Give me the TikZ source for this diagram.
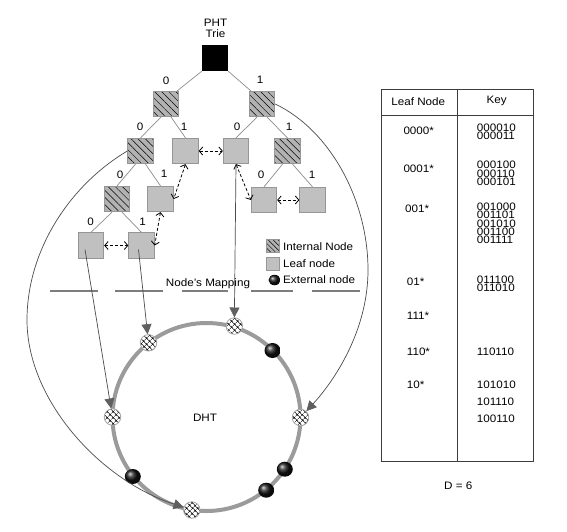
\documentclass[tikz,border=0pt]{standalone}
\usepackage{fontspec}
\setmainfont[FakeStretch=1.08]{Liberation Sans}
\usetikzlibrary{patterns.meta,arrows.meta,calc,shapes.geometric}
\definecolor{leafgray}{RGB}{192,192,192}
\definecolor{hatchgray}{RGB}{178,178,178}
\definecolor{edgegray}{RGB}{140,140,140}
\definecolor{boxborder}{RGB}{150,150,150}
\definecolor{ringgray}{RGB}{155,155,155}
\definecolor{arrgray}{RGB}{75,75,75}
\definecolor{tipgray}{RGB}{95,95,95}
\definecolor{tblline}{RGB}{60,60,60}
\definecolor{mapgray}{RGB}{125,125,125}
\begin{document}
\begin{tikzpicture}[x=1pt,y=-1pt,
  every node/.style={font=\fontsize{10.8}{12}\selectfont, inner sep=0pt},
  box/.style={rectangle, minimum size=25.5pt, inner sep=0pt, draw=boxborder, line width=0.8pt},
  leaf/.style={box, fill=leafgray},
  inode/.style={box, preaction={fill=hatchgray}, pattern={Lines[angle=-45,distance=5pt,line width=0.5pt]}, pattern color=black},
  rootbox/.style={box, fill=black, draw=black},
  edge/.style={draw=edgegray, line width=0.7pt},
  dasharr/.style={draw=black, line width=0.8pt, dash pattern=on 3pt off 2pt, {Straight Barb[length=3.5pt,width=8pt]}-{Straight Barb[length=3.5pt,width=8pt]}},
  longarr/.style={draw=arrgray, line width=0.7pt, -{Triangle[length=10pt,width=10pt,fill=tipgray,color=tipgray]}},
  rnode/.style={circle, minimum size=16.5pt, inner sep=0pt, draw=gray!70, line width=0.8pt, preaction={fill=white}, pattern={Hatch[angle=45,distance=4pt,line width=0.5pt]}, pattern color=black},
  extnode/.style={ellipse, minimum width=16pt, minimum height=15pt, inner sep=0pt, shading=ball, ball color=black!92},
  ringline/.style={draw=ringgray, line width=4pt},
  mapline/.style={draw=mapgray, line width=2pt},
  tbl/.style={draw=tblline, line width=1pt},
  keytxt/.style={anchor=west},
  keygrp/.style={anchor=north west, align=left, font=\fontsize{10.8}{8.35}\selectfont}
]
\useasboundingbox (0,0) rectangle (567,531);

% ---- trie ----
\node (pht) at (215.5,23) {PHT};
\node (trie) at (215.5,33.5) {Trie};
\node[rootbox] (root) at (215,58) {};

\node[inode] (A) at (166,104) {};
\node[inode] (B) at (262,104) {};
\node[inode] (C) at (140.5,151) {};
\node[leaf]  (D) at (185.5,151) {};
\node[leaf]  (E) at (236,151) {};
\node[inode] (F) at (287.5,151) {};
\node[inode] (G) at (117,199) {};
\node[leaf]  (H) at (160.5,199) {};
\node[leaf]  (I) at (264,200) {};
\node[leaf]  (J) at (312.5,200) {};
\node[leaf]  (K) at (91,245.5) {};
\node[leaf]  (L) at (141.5,245.5) {};

\draw[edge] (root.south west) -- ($(A.north east)+(-2,0)$);
\draw[edge] (root.south east) -- ($(B.north west)+(2,0)$);
\draw[edge] ($(A.south)+(-5,0)$) -- (C.north);
\draw[edge] ($(A.south)+(5,0)$) -- (D.north);
\draw[edge] ($(B.south)+(-5,0)$) -- (E.north);
\draw[edge] ($(B.south)+(5,0)$) -- (F.north);
\draw[edge] ($(C.south)+(-5,0)$) -- (G.north);
\draw[edge] ($(C.south)+(5,0)$) -- (H.north);
\draw[edge] ($(F.south)+(-5,0)$) -- (I.north);
\draw[edge] ($(F.south)+(5,0)$) -- (J.north);
\draw[edge] ($(G.south)+(-5,0)$) -- (K.north);
\draw[edge] ($(G.south)+(5,0)$) -- (L.north);

\node (lA) at (166,80.5) {0};
\node (lB) at (260,80) {1};
\node (lC) at (140,127) {0};
\node (lD) at (184,127) {1};
\node (lE) at (237,127) {0};
\node (lF) at (289,127) {1};
\node (lG) at (120,175) {0};
\node (lH) at (164,174) {1};
\node (lI) at (261,175) {0};
\node (lJ) at (312,175) {1};
\node (lK) at (90.7,221.7) {0};
\node (lL) at (142.7,221.7) {1};

\draw[dasharr] (D.east) -- (E.west);
\draw[dasharr] (D.south) -- (H.east);
\draw[dasharr] (H.south) -- (L.east);
\draw[dasharr] (K.east) -- (L.west);
\draw[dasharr] (E.south) -- (I.west);
\draw[dasharr] (I.east) -- (J.west);

% ---- legend ----
\node[inode, minimum size=12.5pt, pattern={Lines[angle=-45,distance=3.5pt,line width=0.5pt]}] (lg1) at (273,246) {};
\node[anchor=west] (lt1) at (283,246.5) {Internal Node};
\node[leaf, minimum size=12.5pt] (lg2) at (273,264) {};
\node[anchor=west] (lt2) at (283,263.5) {Leaf node};
\node[extnode, minimum width=12pt, minimum height=10.5pt] (lg3) at (274.5,280) {};
\node[anchor=west] (lt3) at (283,280) {External node};

% ---- mapping line ----
\draw[mapline] (50,291) -- (98,291);
\draw[mapline] (115,291) -- (163,291);
\draw[mapline] (182,291) -- (228,291);
\draw[mapline] (251,291) -- (293,291);
\draw[mapline] (312,291) -- (360,291);
\node (map) at (208,283.5) {Node's Mapping};

% ---- DHT ring ----
\coordinate (ringc) at (206.5,417);
\draw[ringline] (ringc) circle[radius=94];
\node (dht) at (205,418) {DHT};
\node[rnode] (rT) at (234.3,326) {};
\node[rnode] (rUL) at (148.5,342.8) {};
\node[rnode] (rL) at (112.5,417) {};
\node[rnode] (rR) at (300.5,417.5) {};
\node[rnode] (rB) at (191.8,510) {};
\node[extnode] (x1) at (272.5,350.5) {};
\node[extnode] (x2) at (284.8,469.2) {};
\node[extnode] (x3) at (266.2,490.2) {};
\node[extnode] (x4) at (132.8,476.5) {};

\draw[longarr] ($(K.center)+(-6,4)$) -- (rL);
\draw[longarr] ($(L.center)+(-3,4)$) -- (rUL);
\draw[longarr] (E.south) -- (rT);
\draw[longarr] (B.east) .. controls (330,130) and (368,200) .. (368,270) .. controls (368,330) and (335,380) .. (rR);
\draw[longarr] (C.west) .. controls (70,185) and (27,250) .. (27,320) .. controls (27,400) and (100,480) .. (rB);

% ---- table ----
\draw[tbl] (381.7,89) rectangle (533.3,461.7);
\draw[tbl] (381.7,115.7) -- (533.3,115.7);
\draw[tbl] (457.3,89) -- (457.3,461.7);
\node (h1) at (418.3,101.7) {Leaf Node};
\node (h2) at (496.7,100.5) {Key};

\node[keytxt] (p1) at (403.3,131) {0000*};
\node[keytxt] (p2) at (403.3,168.3) {0001*};
\node[keytxt] (p3) at (405,208.3) {001*};
\node[keytxt] (p4) at (406.7,281.7) {01*};
\node[keytxt] (p5) at (406.7,316) {111*};
\node[keytxt] (p6) at (406.7,351.7) {110*};
\node[keytxt] (p7) at (406.7,385) {10*};

\node[keygrp] (g1) at (476.7,123.8) {000010\\000011};
\node[keygrp] (g2) at (476.7,161.1) {000100\\000110\\000101};
\node[keygrp] (g3) at (476.7,202.8) {001000\\001101\\001010\\001100\\001111};
\node[keygrp] (g4) at (476.7,275.4) {011100\\011010};
\node[keytxt] (k13) at (476.7,351.7) {110110};
\node[keytxt] (k14) at (476.7,385) {101010};
\node[keytxt] (k15) at (476.7,401.7) {101110};
\node[keytxt] (k16) at (476.7,418.3) {100110};

\node (dd) at (458.3,486) {D = 6};
\end{tikzpicture}
\end{document}
